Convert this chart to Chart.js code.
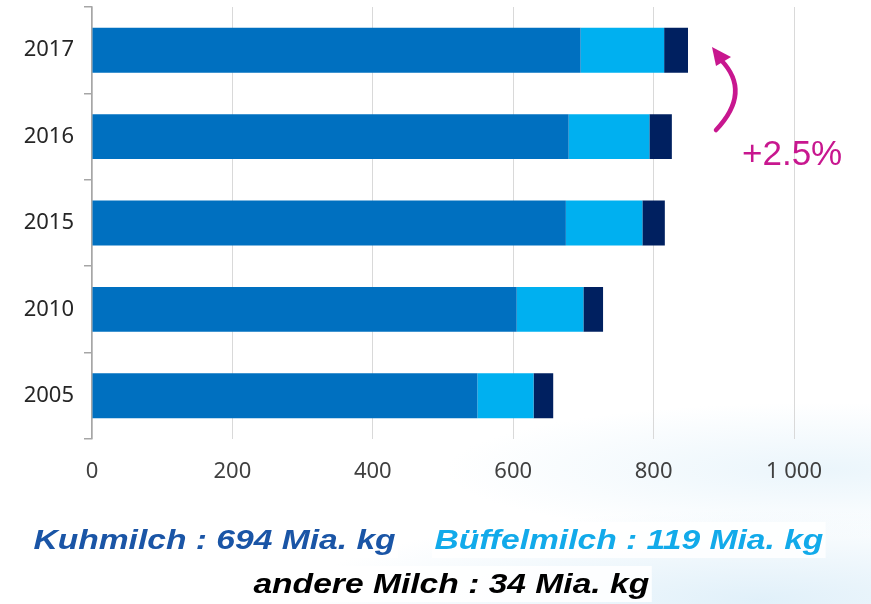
<!DOCTYPE html>
<html>
<head>
<meta charset="utf-8">
<script src="https://cdn.jsdelivr.net/npm/chart.js@4/dist/chart.umd.min.js"></script>
<style>
  body { margin: 0; width: 871px; height: 604px; overflow: hidden; position: relative;
    background:
      radial-gradient(ellipse 620px 120px at 760px 600px, rgba(200,228,245,0.55), rgba(255,255,255,0) 75%),
      radial-gradient(ellipse 500px 90px at 820px 470px, rgba(215,236,248,0.5), rgba(255,255,255,0) 75%),
      #ffffff; }
  #wrap { position: absolute; left: 0; top: 0; width: 871px; height: 500px; }
  .lbl { position: absolute; font-family: "Liberation Sans", Arial, sans-serif; font-weight: bold;
    font-style: italic; font-size: 28px; white-space: nowrap; line-height: 36px;
    transform: scaleX(1.2); transform-origin: 0 0;
    background: rgba(255,255,255,0.85); padding: 0 2px; }
  #pct { position: absolute; left: 742px; top: 133px; font-family: "Liberation Sans", Arial, sans-serif;
    font-size: 35px; color: #c8178f; }
  svg { position: absolute; left: 0; top: 0; }
</style>
</head>
<body>
<div id="wrap"><canvas id="grafico" width="871" height="500"></canvas></div>

<svg width="871" height="604">
  <path d="M 716 130 Q 752 92 721 60" fill="none" stroke="#c8178f" stroke-width="4.5" stroke-linecap="round"/>
  <polygon points="712,47 716,66 731,57" fill="#c8178f"/>
</svg>
<div id="pct">+2.5%</div>

<div class="lbl" style="left:31px; top:522px; color:#1a55a6;">Kuhmilch : 694 Mia. kg</div>
<div class="lbl" style="left:432px; top:522px; color:#12aaea;">Büffelmilch : 119 Mia. kg</div>
<div class="lbl" style="left:251px; top:566px; color:#000;">andere Milch : 34 Mia. kg</div>

<script>
// Jahre (oben nach unten) und Milchmengen in Mia. kg
var jahre = ["2017", "2016", "2015", "2010", "2005"];
var kuhmilch = [696, 679, 675, 605, 549];
var bueffelmilch = [119, 115, 109, 95, 80];
var andereMilch = [34, 32, 32, 28, 28];
var xTicks = [0, 200, 400, 600, 800, 1000];

var schrift = "'Noto Sans', 'Open Sans', sans-serif";

new Chart("grafico", {
  type: "bar",
  data: {
    labels: jahre,
    datasets: [
      { label: "Kuhmilch", data: kuhmilch, backgroundColor: "#0070c0" },
      { label: "Büffelmilch", data: bueffelmilch, backgroundColor: "#00b0f0" },
      { label: "andere Milch", data: andereMilch, backgroundColor: "#002060" }
    ]
  },
  options: {
    indexAxis: "y",
    responsive: false,
    animation: false,
    layout: { padding: { top: 7, right: 77, left: 0, bottom: 0 } },
    datasets: { bar: { barPercentage: 0.52, categoryPercentage: 1 } },
    plugins: { legend: { display: false }, tooltip: { enabled: false } },
    scales: {
      x: {
        stacked: true,
        min: 0,
        max: 1000,
        afterBuildTicks: function(axis) {
          axis.ticks = xTicks.map(function(v) { return { value: v }; });
        },
        afterFit: function(axis) { axis.height = 61; },
        grid: { color: "#d9d9d9", lineWidth: 1, drawTicks: false },
        border: { display: false },
        ticks: {
          padding: 20,
          color: "#404040",
          font: { family: schrift, size: 22 },
          callback: function(v) { return v == 1000 ? "1 000" : v; }
        }
      },
      y: {
        stacked: true,
        afterFit: function(axis) {
          axis.width = 92;
          axis.paddingTop = 0;
          axis.paddingBottom = 0;
        },
        grid: { drawOnChartArea: false, drawTicks: true, tickLength: 8, color: "#a6a6a6", lineWidth: 1.5, offset: true },
        border: { display: true, color: "#a6a6a6", width: 1.5 },
        ticks: { padding: 10, color: "#262626", font: { family: schrift, size: 22 } }
      }
    }
  }
});
</script>
</body>
</html>
